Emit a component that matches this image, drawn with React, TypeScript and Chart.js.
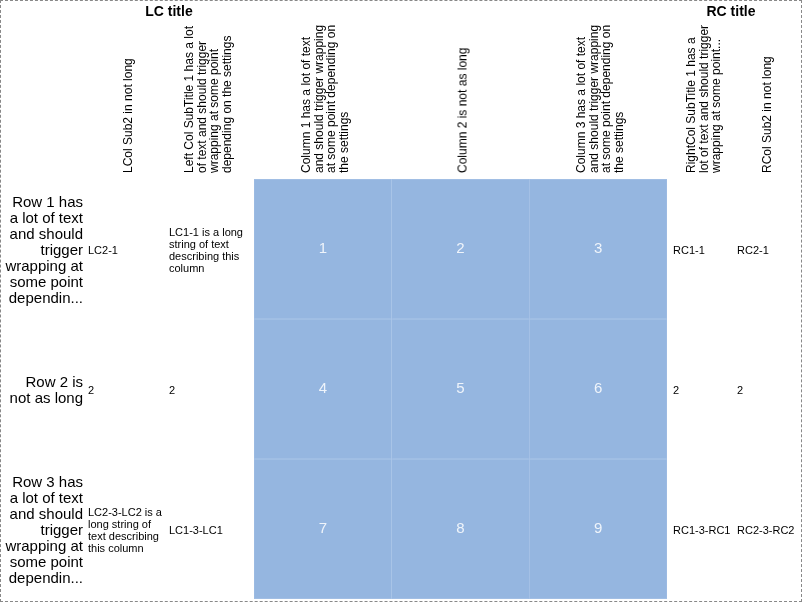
import React, { useEffect, useRef, CSSProperties } from "react";
import { Chart, registerables } from "chart.js";

Chart.register(...registerables);

const columns = ["Column 1", "Column 2", "Column 3"];
const rowValues = [
  [1, 2, 3],
  [4, 5, 6],
  [7, 8, 9],
];
const rowLabels = [
  "Row 1 has a lot of text and should trigger wrapping at some point dependin...",
  "Row 2 is not as long",
  "Row 3 has a lot of text and should trigger wrapping at some point dependin...",
];
const lc2Values = ["LC2-1", "2", "LC2-3-LC2 is a long string of text describing this column"];
const lc1Values = ["LC1-1 is a long string of text describing this column", "2", "LC1-3-LC1"];
const rc1Values = ["RC1-1", "2", "RC1-3-RC1"];
const rc2Values = ["RC2-1", "2", "RC2-3-RC2"];
const headers: { x: number; lines: string[] }[] = [
  { x: 127, lines: ["LCol Sub2 in not long"] },
  { x: 207, lines: ["Left Col SubTitle 1 has a lot", "of text and should trigger", "wrapping at some point", "depending on the settings"] },
  { x: 324, lines: ["Column 1 has a lot of text", "and should trigger wrapping", "at some point depending on", "the settings"] },
  { x: 462, lines: ["Column 2 is not as long"] },
  { x: 599, lines: ["Column 3 has a lot of text", "and should trigger wrapping", "at some point depending on", "the settings"] },
  { x: 703, lines: ["RightCol SubTitle 1 has a", "lot of text and should trigger", "wrapping at some point..."] },
  { x: 766, lines: ["RCol Sub2 in not long"] },
];

const font = "'Liberation Sans', Arial, sans-serif";
const rowTop = 179;
const rowH = 140;

const cellLabels = {
  id: "cellLabels",
  afterDatasetsDraw(chart: Chart) {
    const { ctx } = chart;
    ctx.save();
    ctx.fillStyle = "rgba(255,255,255,0.85)";
    ctx.font = `15px ${font}`;
    ctx.textAlign = "center";
    ctx.textBaseline = "middle";
    chart.data.datasets.forEach((ds, di) => {
      chart.getDatasetMeta(di).data.forEach((bar: any, i) => {
        const c = bar.getCenterPoint();
        ctx.fillText(String(rowValues[di][i]), c.x, c.y);
      });
    });
    ctx.restore();
  },
};

const cellText = (left: number, width: number, r: number, text: string, size = 11): CSSProperties => ({
  position: "absolute",
  left,
  width,
  top: rowTop + r * rowH,
  height: rowH,
  display: "flex",
  alignItems: "center",
  fontSize: size,
  lineHeight: size === 11 ? "12px" : "16px",
});

const App = () => {
  const ref = useRef<HTMLCanvasElement>(null);

  useEffect(() => {
    document.body.style.margin = "0";
    if (!ref.current) return;
    const chart = new Chart(ref.current, {
      type: "bar",
      data: {
        labels: columns,
        datasets: rowValues.map((vals, r) => ({
          label: `Row ${r + 1}`,
          data: vals.map(() => 1),
          backgroundColor: "#95b6e0",
          borderColor: "#b3caea",
          borderWidth: 0.5,
          borderSkipped: false,
          categoryPercentage: 1,
          barPercentage: 1,
        })),
      },
      options: {
        animation: false,
        responsive: false,
        layout: { padding: { left: 254, right: 135, top: rowTop, bottom: 3 } },
        plugins: { legend: { display: false }, tooltip: { enabled: false } },
        scales: {
          x: { display: false, stacked: true },
          y: { display: false, stacked: true, min: 0, max: 3, reverse: true },
        },
      },
      plugins: [cellLabels],
    });
    return () => chart.destroy();
  }, []);

  return (
    <div style={{ position: "relative", width: 800, height: 600, border: "1px dashed #888", fontFamily: font, color: "#000", overflow: "hidden" }}>
      <canvas ref={ref} width={802} height={602} style={{ position: "absolute", left: -1, top: -1 }} />
      <div style={{ position: "absolute", left: 118, width: 100, top: 2, textAlign: "center", fontWeight: "bold", fontSize: 14 }}>LC title</div>
      <div style={{ position: "absolute", left: 680, width: 100, top: 2, textAlign: "center", fontWeight: "bold", fontSize: 14 }}>RC title</div>
      {headers.map((h, i) => (
        <div
          key={i}
          style={{
            position: "absolute",
            left: h.x - (h.lines.length * 12.5) / 2,
            top: 20,
            height: 152,
            width: h.lines.length * 12.5,
            writingMode: "vertical-rl",
            transform: "rotate(180deg)",
            fontSize: 12,
            lineHeight: "12.5px",
            whiteSpace: "nowrap",
          }}
        >
          {h.lines.map((l, j) => (
            <React.Fragment key={j}>
              {l}
              {j < h.lines.length - 1 && <br />}
            </React.Fragment>
          ))}
        </div>
      ))}
      {rowLabels.map((t, r) => (
        <div key={r} style={{ ...cellText(2, 80, r, t, 15), justifyContent: "flex-end", textAlign: "right" }}>{t}</div>
      ))}
      {lc2Values.map((t, r) => (
        <div key={r} style={cellText(87, 78, r, t)}>{t}</div>
      ))}
      {lc1Values.map((t, r) => (
        <div key={r} style={cellText(168, 82, r, t)}>{t}</div>
      ))}
      {rc1Values.map((t, r) => (
        <div key={r} style={cellText(672, 64, r, t)}>{t}</div>
      ))}
      {rc2Values.map((t, r) => (
        <div key={r} style={cellText(736, 64, r, t)}>{t}</div>
      ))}
    </div>
  );
};

export default App;
